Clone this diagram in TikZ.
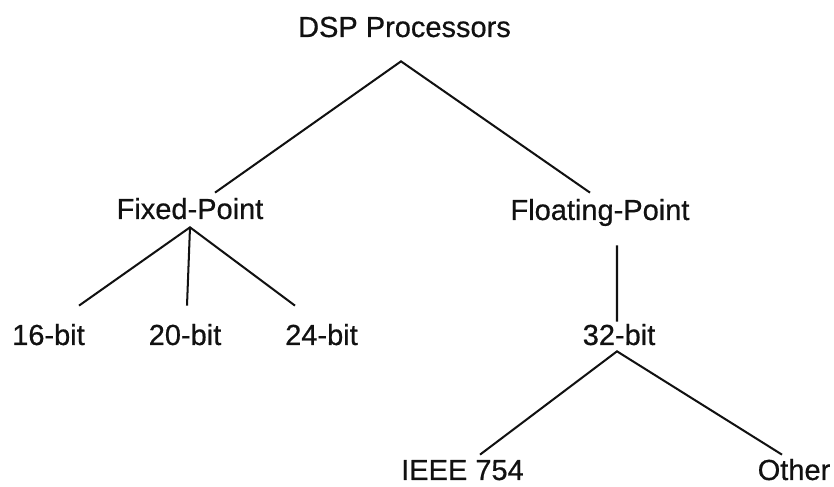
\documentclass[tikz,border=0pt]{standalone}
\usepackage{fontspec}
\setmainfont{Liberation Sans}
\newfontfamily\treefont{Liberation Sans}[FakeBold=0.6]
\usepackage{tikz}
\definecolor{treeblack}{HTML}{111111}

\begin{document}
\begin{tikzpicture}[lbl/.style={anchor=base,inner sep=0pt,text height=0.42cm,text depth=0pt,text=treeblack,font=\fontsize{16.5}{20}\treefont},
		branch/.style={treeblack,line width=1.15pt}]
			\useasboundingbox (0,0) rectangle (16.68,9.74);
			\node[lbl] (dsp) at (8.09,9.00) {DSP Processors};
			\node[lbl] (fixed) at (3.80,5.36) {Fixed-Point};
			\node[lbl] (float) at (12.00,5.34) {Floating-Point};
			\node[lbl] (b16) at (0.97,2.84) {16-bit};
			\node[lbl] (b20) at (3.70,2.84) {20-bit};
			\node[lbl] (b24) at (6.43,2.84) {24-bit};
			\node[lbl] (b32) at (12.38,2.84) {32-bit};
			\node[lbl] (ieee) at (9.25,0.14) {IEEE 754};
			\node[lbl] (other) at (15.88,0.14) {Other};
			\draw[branch] ([shift={(0.5,0.1)}]fixed.north) -- ([shift={(-0.07,-0.48)}]dsp.south) -- ([shift={(-0.2,0.12)}]float.north);
			\draw[branch] ([shift={(0.61,0.36)}]b16.north) -- ([yshift=-0.16cm]fixed.south) -- ([shift={(-0.53,0.36)}]b24.north);
			\draw[branch] ([yshift=-0.16cm]fixed.south) -- ([shift={(0.04,0.36)}]b20.north);
			\draw[branch] ([shift={(0.34,-0.5)}]float.south) -- ([shift={(-0.04,0.04)}]b32.north);
			\draw[branch] ([shift={(0.35,0.08)}]ieee.north) -- ([shift={(-0.04,-0.12)}]b32.south) -- ([shift={(-0.24,0.08)}]other.north);
		\end{tikzpicture}
\end{document}
